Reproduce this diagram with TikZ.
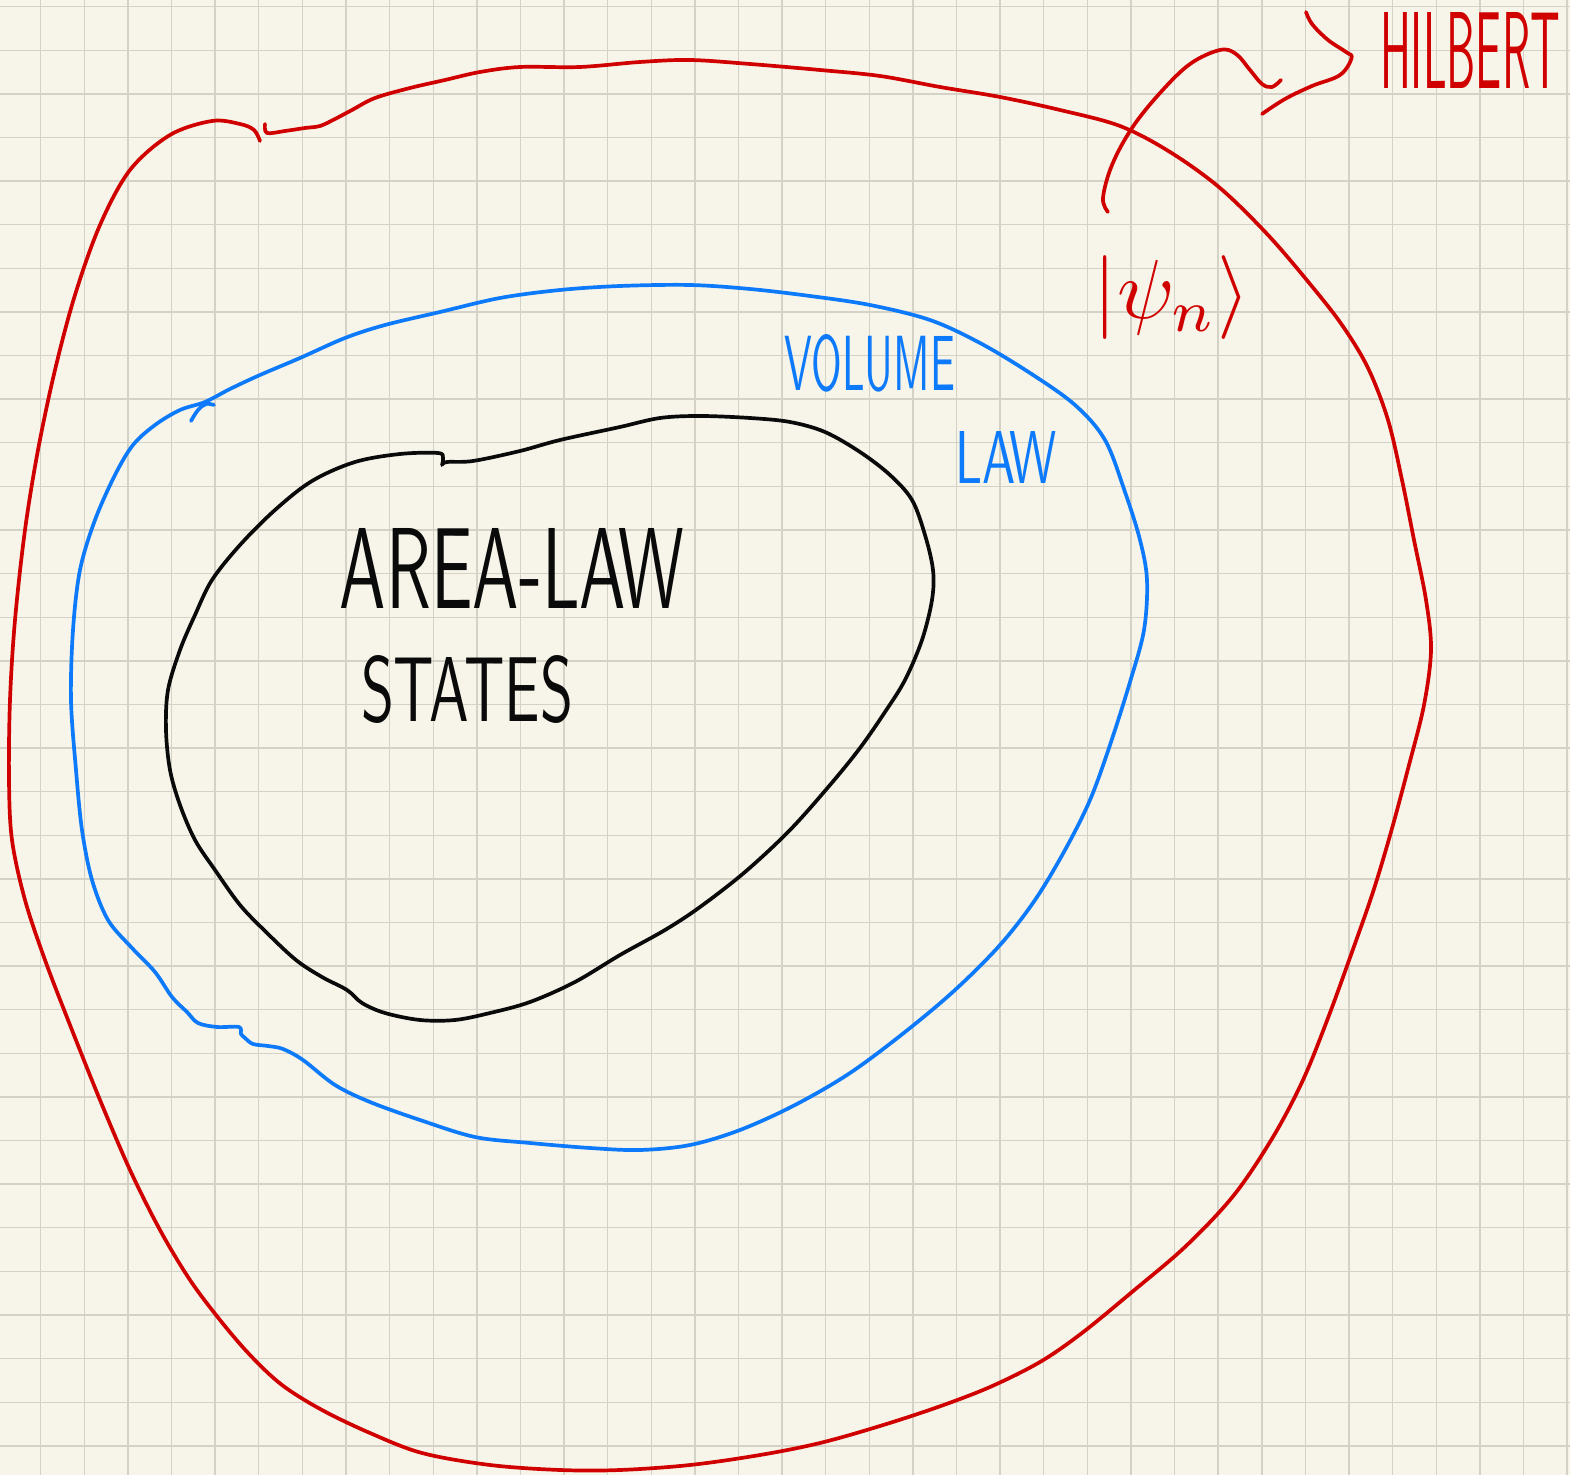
\documentclass[tikz,border=0pt]{standalone}
\usepackage{fontspec}
\usepackage{graphicx}
\definecolor{paper}{RGB}{247,245,233}
\definecolor{gridc}{RGB}{212,210,198}
\definecolor{penred}{RGB}{208,0,0}
\definecolor{penblue}{RGB}{12,122,250}
\definecolor{penblack}{RGB}{10,10,10}
\begin{document}
\begin{tikzpicture}[x=0.5pt,y=-0.5pt,
  gridline/.style={draw=gridc,line width=0.7pt},
  pen/.style={line width=1.85pt,line cap=round,line join=round},
  redpen/.style={pen,draw=penred},
  bluepen/.style={pen,draw=penblue},
  blackpen/.style={pen,draw=penblack},
  hand/.style={inner sep=0pt,font=\sffamily},
]
\fill[paper] (0,0) rectangle (1570,1475);
\useasboundingbox (0,0) rectangle (1570,1475);
% grid
\foreach \i in {1,...,36} \draw[gridline] ({-2.9+43.61*\i},0) -- ({-2.9+43.61*\i},1475);
\foreach \j in {0,...,33} \draw[gridline] (0,{6.7+43.61*\j}) -- (1570,{6.7+43.61*\j});

% red outer region (Hilbert space)
\draw[redpen] plot[smooth,tension=0.55] coordinates {
 (265,124) (267,133) (285,131) (305,128) (320,126) (335,119) (352,110) (375,98) (410,88)
 (445,80) (480,72) (520,67) (580,67) (640,62) (690,60) (750,64) (820,70) (880,76)
 (940,87) (1000,97) (1060,110) (1120,126) (1170,152) (1220,188) (1268,235) (1310,284)
 (1342,325) (1368,368) (1388,420) (1402,480) (1414,540) (1426,600) (1431,650) (1424,705)
 (1409,765) (1391,832) (1373,892) (1352,952) (1328,1018) (1303,1080) (1273,1137) (1234,1195)
 (1186,1246) (1132,1292) (1082,1333) (1040,1362) (990,1387) (938,1407) (880,1426) (820,1443)
 (760,1455) (690,1465) (620,1470) (560,1470) (490,1465) (422,1453) (370,1433) (322,1410)
 (282,1385) (250,1355) (220,1320) (190,1280) (160,1230) (130,1170) (100,1100) (70,1025)
 (45,960) (25,900) (12,840) (9,780) (10,700) (15,620) (25,530) (38,450) (55,370) (75,295)
 (100,225) (130,170) (170,135) (212,121) (240,124) (254,130) (260,141)};

% blue volume-law region
\draw[bluepen] plot[smooth cycle,tension=0.55] coordinates {
 (205,402) (230,389) (260,375) (300,358) (345,338) (385,325) (440,312) (500,298) (560,290)
 (620,286) (690,285) (750,289) (810,296) (870,305) (930,320) (980,343) (1030,373) (1075,405)
 (1105,440) (1125,492) (1140,540) (1147,580) (1144,630) (1130,682) (1110,745) (1090,800)
 (1065,850) (1035,900) (1000,945) (955,990) (905,1032) (850,1073) (795,1105) (740,1130)
 (690,1145) (640,1150) (590,1148) (530,1143) (475,1137) (420,1120) (370,1102) (335,1085)
 (303,1060) (283,1049) (268,1046) (253,1044) (245,1038) (241,1034) (239,1027) (217,1027)
 (198,1023) (187,1012) (172,997) (155,972) (132,948) (108,920) (92,880) (82,830) (76,770)
 (71,700) (73,630) (80,570) (95,520) (115,475) (133,445) (155,425) (180,410)};
\draw[bluepen] plot[smooth,tension=0.6] coordinates {(191,421) (198,410) (206,404) (214,405)};

% black area-law region
\draw[blackpen] plot[smooth,tension=0.55] coordinates {
 (442,465) (447,462) (473,461) (520,451) (560,440) (620,427) (660,418) (700,416) (750,418)
 (790,422) (825,432) (860,452) (890,475) (912,500) (925,535) (933,570) (932,600) (922,640)
 (905,680) (885,712) (860,748) (830,785) (790,830) (745,872) (700,907) (665,930) (620,955)
 (575,982) (530,1002) (490,1013) (455,1020) (420,1020) (385,1013) (362,1003) (347,990)
 (322,977) (296,960) (266,932) (240,905) (215,870) (195,840) (180,805) (170,770) (166,730)
 (168,690) (180,650) (195,615) (212,580) (240,545) (275,510) (312,481) (355,462) (400,454)
 (438,453) (443,458) (442,465)};

% labels
\node[hand,text=penblack] (area) at (512,568) {\resizebox{172pt}{40pt}{AREA-LAW}};
\node[hand,text=penblack] (states) at (467,690) {\resizebox{106pt}{33pt}{STATES}};
\node[hand,text=penblue] (volume) at (870,363) {\resizebox{85pt}{28pt}{VOLUME}};
\node[hand,text=penblue] (law) at (1006,458) {\resizebox{51pt}{26pt}{LAW}};
\node[hand,text=penred] (psi) at (1172,298) {\resizebox{78pt}{!}{$|\psi_n\rangle$}};
\node[hand,text=penred] (hilbert) at (1470,50) {\resizebox{90pt}{38pt}{HILBERT}};

% arrow from the state to Hilbert space
\coordinate (arrstart) at (1108,212);
\coordinate (arrend) at (1281,80);
\coordinate (tip) at ([xshift=-14pt,yshift=-4pt]hilbert.west);
\draw[redpen] plot[smooth,tension=0.6] coordinates {
 (arrstart) (1103,198) (1112,165) (1132,128) (1160,93) (1190,64) (1220,50) (1236,54)
 (1250,70) (1262,84) (1272,87) (arrend)};
\draw[redpen] plot[smooth,tension=0.6] coordinates {
 (1306,12) (1312,24) (1328,40) (1346,52) (tip) (1340,75) (1312,86) (1285,99) (1262,114)};
\end{tikzpicture}
\end{document}
